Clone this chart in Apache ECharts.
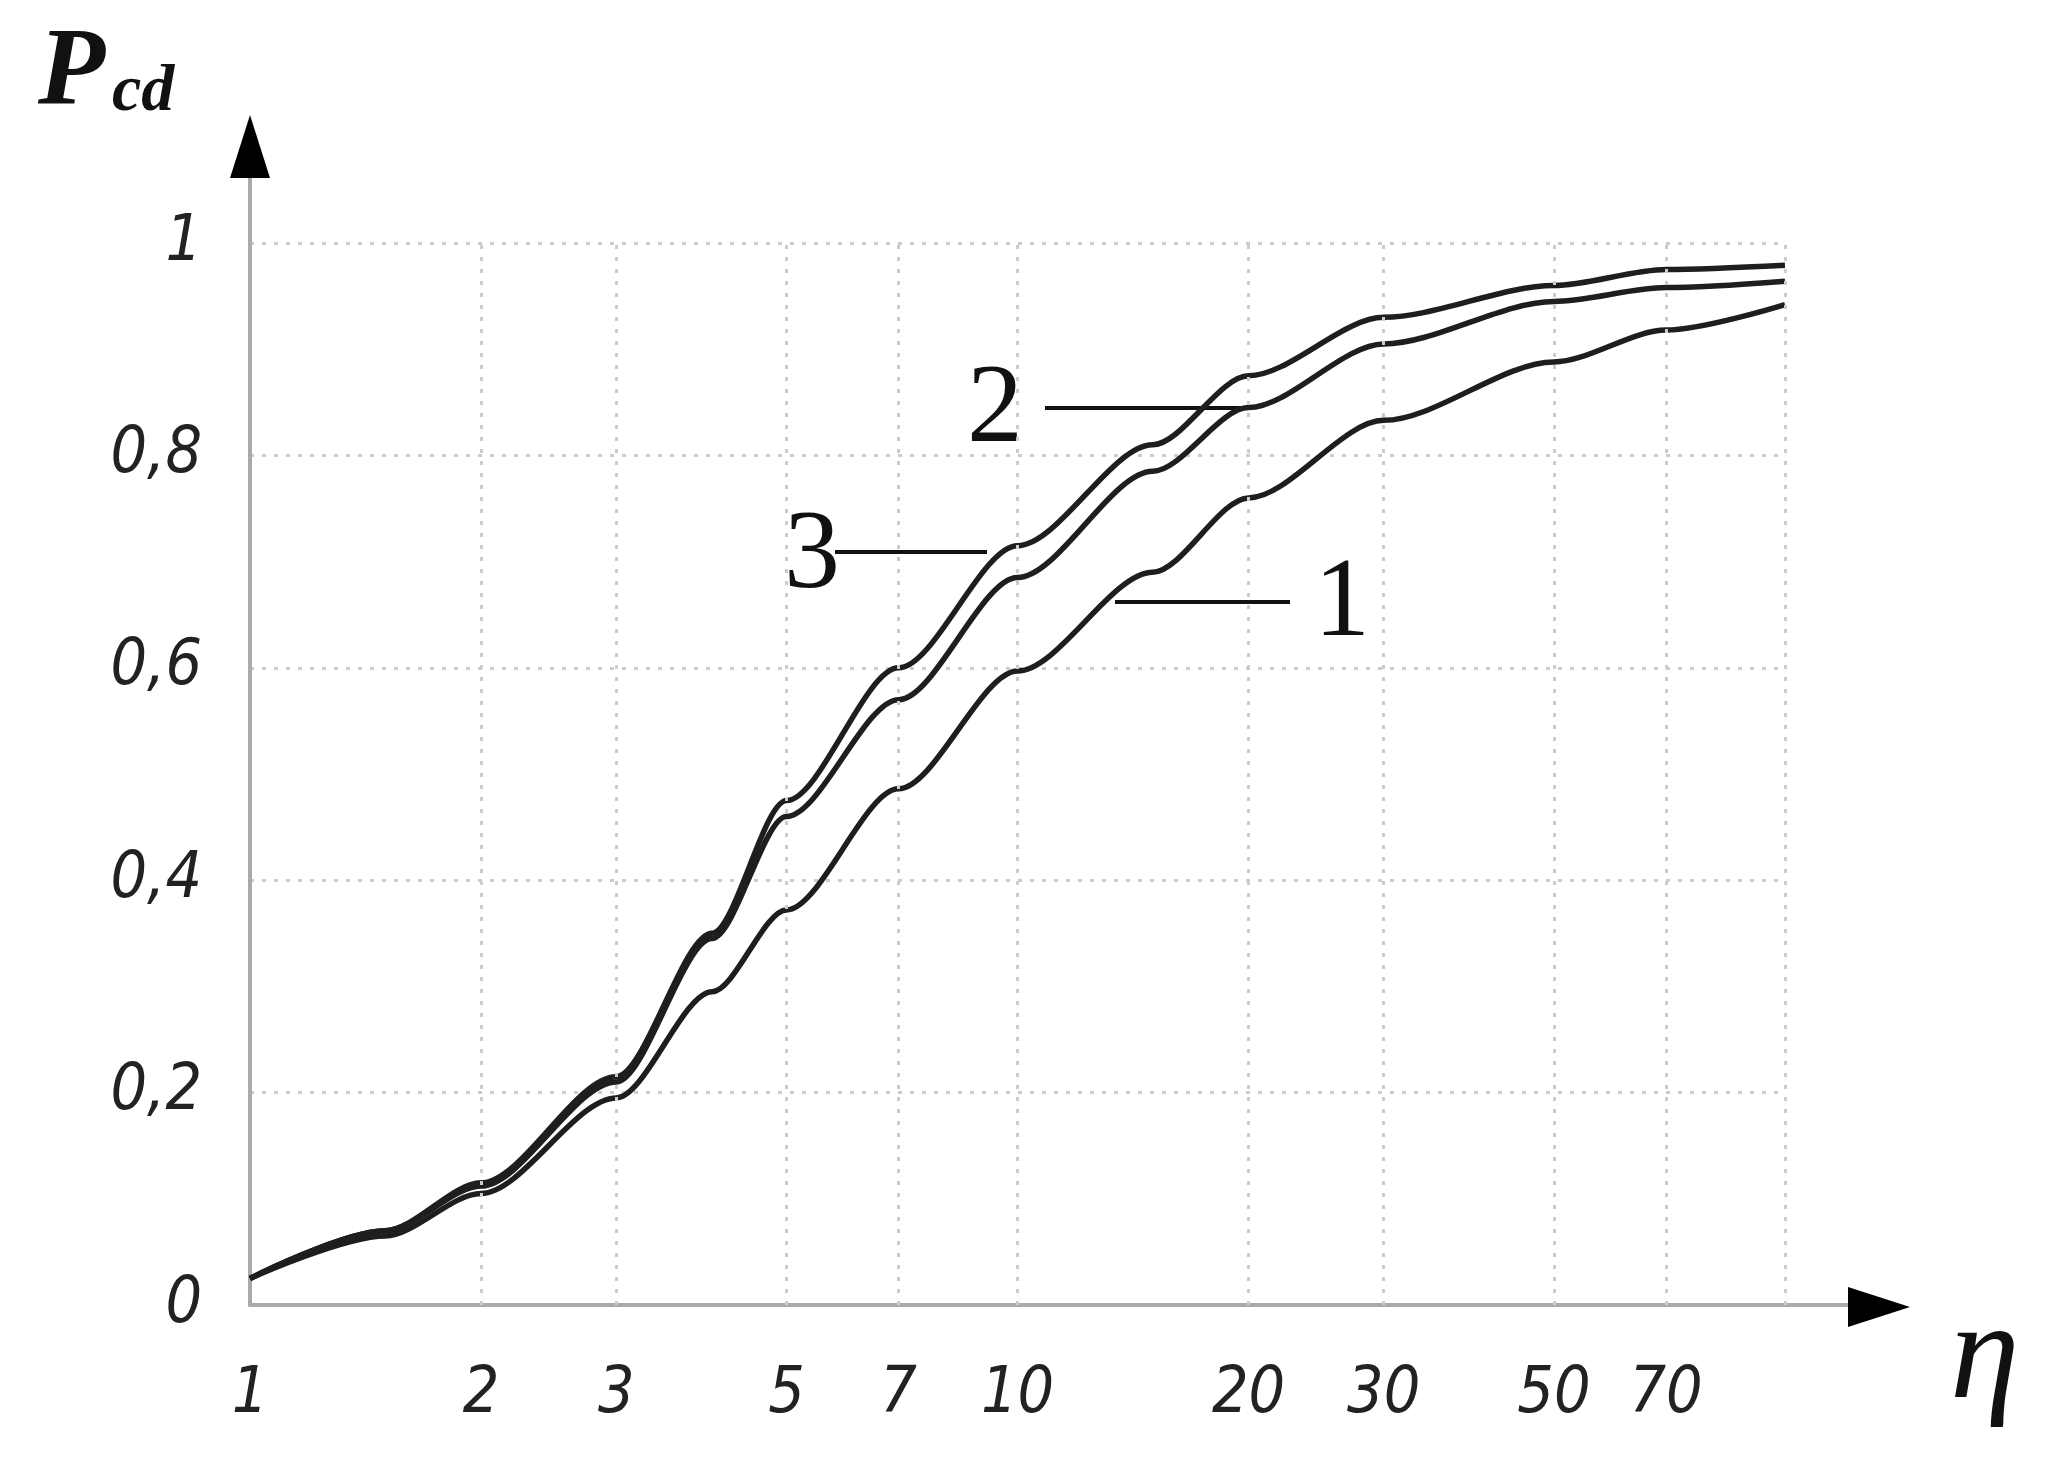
<!DOCTYPE html>
<html><head><meta charset="utf-8">
<script src="https://cdn.jsdelivr.net/npm/echarts@6/dist/echarts.min.js"></script>
<style>html,body{margin:0;background:#fff}#c{width:2051px;height:1459px}</style>
</head><body><div id="c"></div>
<script>
const etaValues = [1, 1.5, 2, 3, 4, 5, 7, 10, 15, 20, 30, 50, 70, 100];
const curve1 = [0.025, 0.065, 0.105, 0.195, 0.295, 0.372, 0.486, 0.597, 0.69, 0.76, 0.833, 0.888, 0.918, 0.942];
const curve2 = [0.025, 0.07, 0.115, 0.215, 0.35, 0.475, 0.60, 0.715, 0.81, 0.875, 0.93, 0.96, 0.975, 0.979];
const curve3 = [0.025, 0.07, 0.112, 0.21, 0.345, 0.46, 0.57, 0.685, 0.785, 0.845, 0.905, 0.945, 0.958, 0.964];
const xTickLabels = [1, 2, 3, 5, 7, 10, 20, 30, 50, 70];
const xGridValues = [2, 3, 5, 7, 10, 20, 30, 50, 70, 100];
const curveNames = ['1', '2', '3'];

const chart = echarts.init(document.getElementById('c'));
const pair = arr => etaValues.map((x, i) => [x, arr[i]]);
const lineStyle = {color: '#1e1e1e', width: 5.5};
const mk = (name, arr) => ({type: 'line', name, data: pair(arr), smooth: 0.3, smoothMonotone: 'x', showSymbol: false, lineStyle, silent: true});
const series = [mk(curveNames[0], curve1), mk(curveNames[1], curve2), mk(curveNames[2], curve3)];
series[0].markLine = {
  silent: true, symbol: 'none', label: {show: false}, animation: false,
  lineStyle: {color: '#ccc', type: [4, 8], width: 3},
  data: xGridValues.map(v => ({xAxis: v}))
};
const tf = {fontFamily: 'DejaVu Sans Condensed', fontStyle: 'italic', fontSize: 64, color: '#222'};
chart.setOption({
  animation: false,
  grid: {left: 250, right: 266, top: 243, bottom: 154},
  xAxis: {
    type: 'log', min: 1, max: 100, logBase: 10,
    axisLine: {lineStyle: {color: '#aaa', width: 4}},
    axisTick: {show: false}, splitLine: {show: false}, minorTick: {show: false},
    axisLabel: Object.assign({customValues: xTickLabels, margin: 58}, tf)
  },
  yAxis: {
    type: 'value', min: 0, max: 1, interval: 0.2,
    axisLine: {show: true, lineStyle: {color: '#aaa', width: 4}},
    axisTick: {show: false},
    splitLine: {lineStyle: {color: '#ccc', type: [4, 8], width: 3}},
    axisLabel: Object.assign({margin: 48, formatter: v => String(v).replace('.', ',')}, tf)
  },
  series,
  graphic: [
    {type: 'line', shape: {x1: 250, y1: 1305, x2: 250, y2: 160}, style: {stroke: '#aaa', lineWidth: 4}},
    {type: 'polygon', shape: {points: [[250, 115], [230, 178], [270, 178]]}, style: {fill: '#000'}},
    {type: 'line', shape: {x1: 250, y1: 1305, x2: 1860, y2: 1305}, style: {stroke: '#aaa', lineWidth: 4}},
    {type: 'polygon', shape: {points: [[1910, 1307], [1848, 1287], [1848, 1327]]}, style: {fill: '#000'}},
    {type: 'text', left: 38, top: 20, style: {text: 'P', font: 'italic bold 110px "Liberation Serif"', fill: '#111'}},
    {type: 'text', left: 112, top: 60, style: {text: 'cd', font: 'italic bold 66px "Liberation Serif"', fill: '#111'}},
    {type: 'text', left: 1950, top: 1290, style: {text: 'η', font: 'italic 140px "Liberation Serif"', fill: '#111'}},
    {type: 'line', shape: {x1: 1045, y1: 408, x2: 1250, y2: 408}, style: {stroke: '#111', lineWidth: 4}},
    {type: 'line', shape: {x1: 835, y1: 552, x2: 987, y2: 552}, style: {stroke: '#111', lineWidth: 4}},
    {type: 'line', shape: {x1: 1115, y1: 602, x2: 1290, y2: 602}, style: {stroke: '#111', lineWidth: 4}},
    {type: 'text', x: 995, y: 412, style: {text: '2', font: '112px "Liberation Serif"', fill: '#111', align: 'center', verticalAlign: 'middle'}},
    {type: 'text', x: 812, y: 558, style: {text: '3', font: '112px "Liberation Serif"', fill: '#111', align: 'center', verticalAlign: 'middle'}},
    {type: 'text', x: 1342, y: 606, style: {text: '1', font: '112px "Liberation Serif"', fill: '#111', align: 'center', verticalAlign: 'middle'}}
  ]
});
</script></body></html>
